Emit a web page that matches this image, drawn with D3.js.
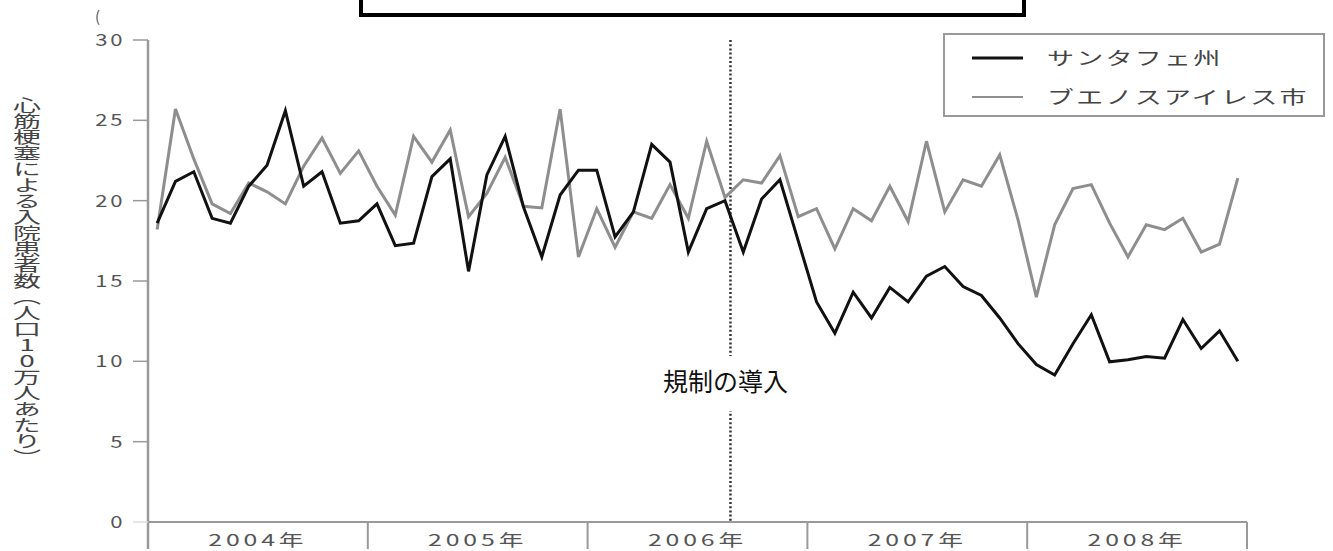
<!DOCTYPE html>
<html>
<head>
<meta charset="utf-8">
<script src="https://cdn.jsdelivr.net/npm/d3@7"></script>
<style>
  html, body { margin: 0; padding: 0; background: #fff; }
  svg { display: block; }
</style>
</head>
<body>
<div id="chart"></div>
<script>
// monthly admissions for myocardial infarction per 100k, Jan 2004 - Dec 2008
const years = ['2004年', '2005年', '2006年', '2007年', '2008年'];
const yTicks = [0, 5, 10, 15, 20, 25, 30];
const seriesNames = ['サンタフェ州', 'ブエノスアイレス市'];
const yTitle = '心筋梗塞による入院患者数（人口10万人あたり）';

const santaFe = [
  18.6, 21.2, 21.8, 18.9, 18.6, 20.9, 22.2, 25.6, 20.9, 21.8, 18.6, 18.75,
  19.8, 17.2, 17.35, 21.5, 22.6, 15.6, 21.6, 24.0, 19.6, 16.5, 20.35, 21.9,
  21.9, 17.75, 19.3, 23.5, 22.4, 16.8, 19.5, 20.0, 16.8, 20.1, 21.3, 17.5,
  13.7, 11.75, 14.3, 12.7, 14.6, 13.7, 15.3, 15.9, 14.65, 14.1, 12.7, 11.1,
  9.8, 9.15, 11.1, 12.9, 9.97, 10.1, 10.3, 10.2, 12.6, 10.8, 11.9, 10.0
];
const buenosAires = [
  18.2, 25.7, 22.6, 19.8, 19.2, 21.1, 20.55, 19.8, 22.15, 23.9, 21.7, 23.1,
  20.9, 19.1, 24.0, 22.4, 24.4, 19.0, 20.45, 22.7, 19.65, 19.55, 25.7, 16.5,
  19.5, 17.1, 19.3, 18.9, 21.0, 18.9, 23.7, 20.2, 21.3, 21.1, 22.8, 19.0,
  19.5, 17.0, 19.5, 18.75, 20.9, 18.7, 23.7, 19.3, 21.3, 20.9, 22.85, 18.8,
  14.0, 18.5, 20.75, 21.0, 18.6, 16.5, 18.5, 18.2, 18.9, 16.8, 17.3, 21.4
];
const regulationMonth = 31.8; // months from Jan 2004

const W = 1333, H = 551;
const FONT = "'Noto Sans CJK JP', 'Noto Sans', sans-serif";
const SX = 1.6; // source image is stretched horizontally

const svg = d3.select('#chart').append('svg')
  .attr('width', W)
  .attr('height', H);

const x = d3.scaleLinear().domain([0, 60]).range([148, 1247]);
const y = d3.scaleLinear().domain([0, 30]).range([522, 40]);

// stretched text helper
function stext(parent, tx, ty, str, o = {}) {
  return parent.append('text')
    .attr('transform', `translate(${tx},${ty}) scale(${o.sx || SX},1)`)
    .attr('text-anchor', o.anchor || 'start')
    .style('font-family', FONT)
    .style('font-size', (o.size || 16) + 'px')
    .style('letter-spacing', (o.ls || 0) + 'px')
    .style('fill', o.fill || '#444')
    .text(str);
}

// empty black box at the top
svg.append('rect')
  .attr('x', 361).attr('y', -20)
  .attr('width', 663).attr('height', 35)
  .attr('fill', '#fff')
  .attr('stroke', '#000')
  .attr('stroke-width', 4);

// stray bracket at top left
stext(svg, 95, 22, '(', { size: 15, sx: 1, fill: '#555' });

// y axis line and ticks
svg.append('line')
  .attr('x1', 148).attr('x2', 148)
  .attr('y1', y(30)).attr('y2', 549)
  .attr('stroke', '#999').attr('stroke-width', 2.5);

yTicks.forEach(t => {
  svg.append('line')
    .attr('x1', 133).attr('x2', 148)
    .attr('y1', y(t)).attr('y2', y(t))
    .attr('stroke', t === 0 ? '#ddd' : '#999')
    .attr('stroke-width', 1.5);
  stext(svg, 125, y(t) + 6, String(t), { anchor: 'end', size: 17, ls: 2, fill: '#555', sx: 1.3 });
});

// x axis line, year separators and labels
svg.append('line')
  .attr('x1', 148).attr('x2', x(60))
  .attr('y1', y(0)).attr('y2', y(0))
  .attr('stroke', '#999').attr('stroke-width', 2);

d3.range(1, 6).forEach(k => {
  svg.append('line')
    .attr('x1', x(k * 12)).attr('x2', x(k * 12))
    .attr('y1', y(0)).attr('y2', 549)
    .attr('stroke', '#999').attr('stroke-width', 2);
});

years.forEach((yr, k) => {
  stext(svg, x(k * 12 + 6), 546, yr, { anchor: 'middle', size: 16, ls: 2.5, fill: '#555', sx: 1.55 });
});

// y axis title, written vertically as one text
svg.append('text')
  .attr('transform', 'translate(27,97) scale(1.75,1)')
  .attr('x', 0).attr('y', 0)
  .style('writing-mode', 'vertical-rl')
  .style('text-orientation', 'upright')
  .style('font-family', FONT)
  .style('font-size', '16px')
  .style('fill', '#444')
  .text(yTitle);

// regulation line
svg.append('line')
  .attr('x1', x(regulationMonth)).attr('x2', x(regulationMonth))
  .attr('y1', y(30)).attr('y2', y(0))
  .attr('stroke', '#333')
  .attr('stroke-width', 2.5)
  .attr('stroke-dasharray', '2,2.2');

// label with white background
svg.append('rect')
  .attr('x', 617).attr('y', 356)
  .attr('width', 233).attr('height', 55)
  .attr('fill', '#fff');
svg.append('text')
  .attr('x', x(regulationMonth) - 5)
  .attr('y', 391)
  .attr('text-anchor', 'middle')
  .style('font-family', FONT)
  .style('font-size', '25px')
  .style('fill', '#111')
  .text('規制の導入');

// series lines
const line = d3.line()
  .x((d, i) => x(i + 0.5))
  .y(d => y(d));

svg.append('path')
  .datum(buenosAires)
  .attr('d', line)
  .attr('fill', 'none')
  .attr('stroke', '#8e8e8e')
  .attr('stroke-width', 3)
  .attr('stroke-linejoin', 'miter');

svg.append('path')
  .datum(santaFe)
  .attr('d', line)
  .attr('fill', 'none')
  .attr('stroke', '#111')
  .attr('stroke-width', 3)
  .attr('stroke-linejoin', 'miter');

// legend
const lg = svg.append('g');
lg.append('rect')
  .attr('x', 944).attr('y', 34)
  .attr('width', 380).attr('height', 82)
  .attr('fill', '#fff')
  .attr('stroke', '#999')
  .attr('stroke-width', 2);

[['#111', 3.2, 58], ['#8e8e8e', 2.2, 97]].forEach(([c, w, ly], i) => {
  lg.append('line')
    .attr('x1', 972).attr('x2', 1023)
    .attr('y1', ly).attr('y2', ly)
    .attr('stroke', c).attr('stroke-width', w);
  stext(lg, 1047, ly + 7, seriesNames[i], { size: 18, ls: 1.5, fill: '#444', sx: 1.5 });
});
</script>
</body>
</html>
